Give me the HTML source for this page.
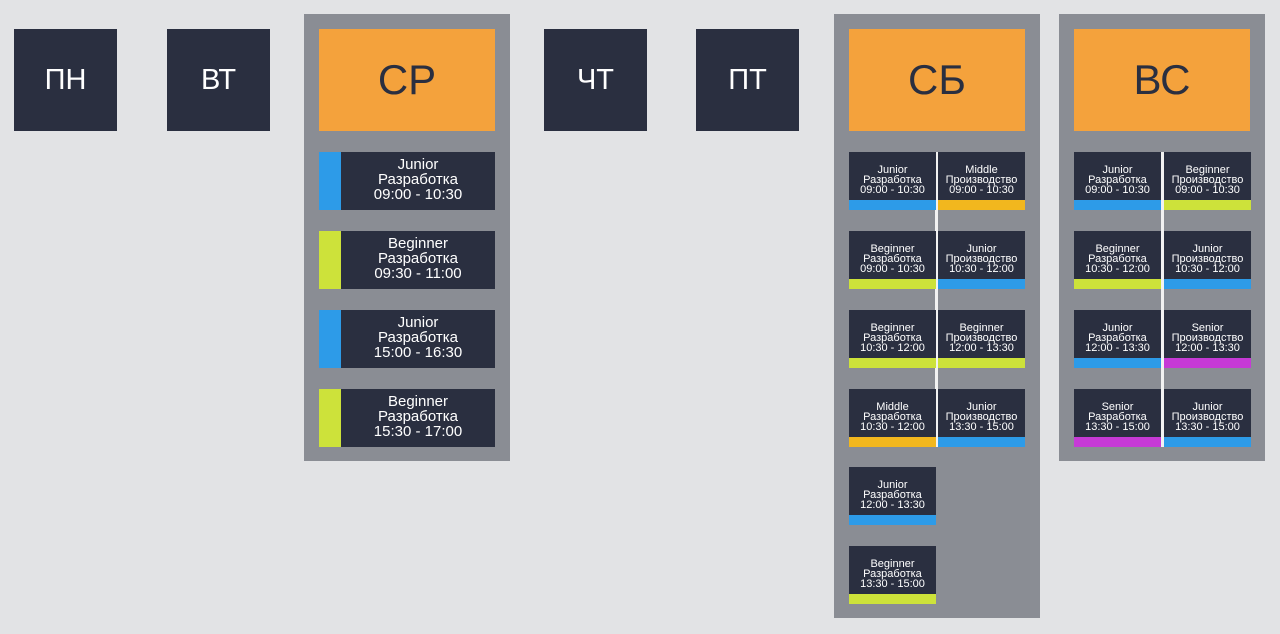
<!DOCTYPE html>
<html><head><meta charset="utf-8"><style>
body{margin:0;width:1280px;height:634px;background:#e2e3e5;position:relative;overflow:hidden;font-family:"Liberation Sans","DejaVu Sans",sans-serif;color:#fff}
div{position:absolute;box-sizing:border-box}
.d{background:#2a2f40;width:103px;height:102px;top:29px;font-size:29px;display:flex;align-items:center;justify-content:center}
.p{background:#8a8d94;top:14px;width:206px}
.o{background:#f4a23c;color:#2a2f40;width:176px;height:102px;top:29px;font-size:42px;display:flex;align-items:center;justify-content:center}
.c{background:#2a2f40;width:176px;height:58px;left:319px}
.c .b{left:0;top:0;width:22px;height:58px}
.c .t{left:22px;right:0;top:5px;text-align:center;font-size:15px;line-height:15px}
.s{background:#2a2f40;width:87px;height:58px}
.s .b{left:0;bottom:0;width:100%;height:10px}
.s .t{left:-4px;right:-4px;top:13px;text-align:center;font-size:11px;line-height:10px}
.l{background:#f2f2f2;width:3px;top:152px;height:295px}
.B{background:#2d9be8}.L{background:#cde23a}.Y{background:#f2b71e}.P{background:#c63ad6}
</style></head><body>
<div class="d" style="left:14px">ПН</div>
<div class="d" style="left:167px">ВТ</div>
<div class="d" style="left:544px">ЧТ</div>
<div class="d" style="left:696px">ПТ</div>

<div class="p" style="left:304px;height:447px"></div>
<div class="o" style="left:319px">СР</div>
<div class="c" style="top:152px"><div class="b B"></div><div class="t">Junior<br>Разработка<br>09:00 - 10:30</div></div>
<div class="c" style="top:231px"><div class="b L"></div><div class="t">Beginner<br>Разработка<br>09:30 - 11:00</div></div>
<div class="c" style="top:310px"><div class="b B"></div><div class="t">Junior<br>Разработка<br>15:00 - 16:30</div></div>
<div class="c" style="top:389px"><div class="b L"></div><div class="t">Beginner<br>Разработка<br>15:30 - 17:00</div></div>

<div class="p" style="left:834px;height:604px"></div>
<div class="o" style="left:849px">СБ</div>
<div class="l" style="left:935px"></div>
<div class="s" style="left:849px;top:152px"><div class="t">Junior<br>Разработка<br>09:00 - 10:30</div><div class="b B"></div></div>
<div class="s" style="left:938px;top:152px"><div class="t">Middle<br>Производство<br>09:00 - 10:30</div><div class="b Y"></div></div>
<div class="s" style="left:849px;top:231px"><div class="t">Beginner<br>Разработка<br>09:00 - 10:30</div><div class="b L"></div></div>
<div class="s" style="left:938px;top:231px"><div class="t">Junior<br>Производство<br>10:30 - 12:00</div><div class="b B"></div></div>
<div class="s" style="left:849px;top:310px"><div class="t">Beginner<br>Разработка<br>10:30 - 12:00</div><div class="b L"></div></div>
<div class="s" style="left:938px;top:310px"><div class="t">Beginner<br>Производство<br>12:00 - 13:30</div><div class="b L"></div></div>
<div class="s" style="left:849px;top:389px"><div class="t">Middle<br>Разработка<br>10:30 - 12:00</div><div class="b Y"></div></div>
<div class="s" style="left:938px;top:389px"><div class="t">Junior<br>Производство<br>13:30 - 15:00</div><div class="b B"></div></div>
<div class="s" style="left:849px;top:467px"><div class="t">Junior<br>Разработка<br>12:00 - 13:30</div><div class="b B"></div></div>
<div class="s" style="left:849px;top:546px"><div class="t">Beginner<br>Разработка<br>13:30 - 15:00</div><div class="b L"></div></div>

<div class="p" style="left:1059px;height:447px"></div>
<div class="o" style="left:1074px">ВС</div>
<div class="l" style="left:1161px"></div>
<div class="s" style="left:1074px;top:152px"><div class="t">Junior<br>Разработка<br>09:00 - 10:30</div><div class="b B"></div></div>
<div class="s" style="left:1164px;top:152px"><div class="t">Beginner<br>Производство<br>09:00 - 10:30</div><div class="b L"></div></div>
<div class="s" style="left:1074px;top:231px"><div class="t">Beginner<br>Разработка<br>10:30 - 12:00</div><div class="b L"></div></div>
<div class="s" style="left:1164px;top:231px"><div class="t">Junior<br>Производство<br>10:30 - 12:00</div><div class="b B"></div></div>
<div class="s" style="left:1074px;top:310px"><div class="t">Junior<br>Разработка<br>12:00 - 13:30</div><div class="b B"></div></div>
<div class="s" style="left:1164px;top:310px"><div class="t">Senior<br>Производство<br>12:00 - 13:30</div><div class="b P"></div></div>
<div class="s" style="left:1074px;top:389px"><div class="t">Senior<br>Разработка<br>13:30 - 15:00</div><div class="b P"></div></div>
<div class="s" style="left:1164px;top:389px"><div class="t">Junior<br>Производство<br>13:30 - 15:00</div><div class="b B"></div></div>
</body></html>
